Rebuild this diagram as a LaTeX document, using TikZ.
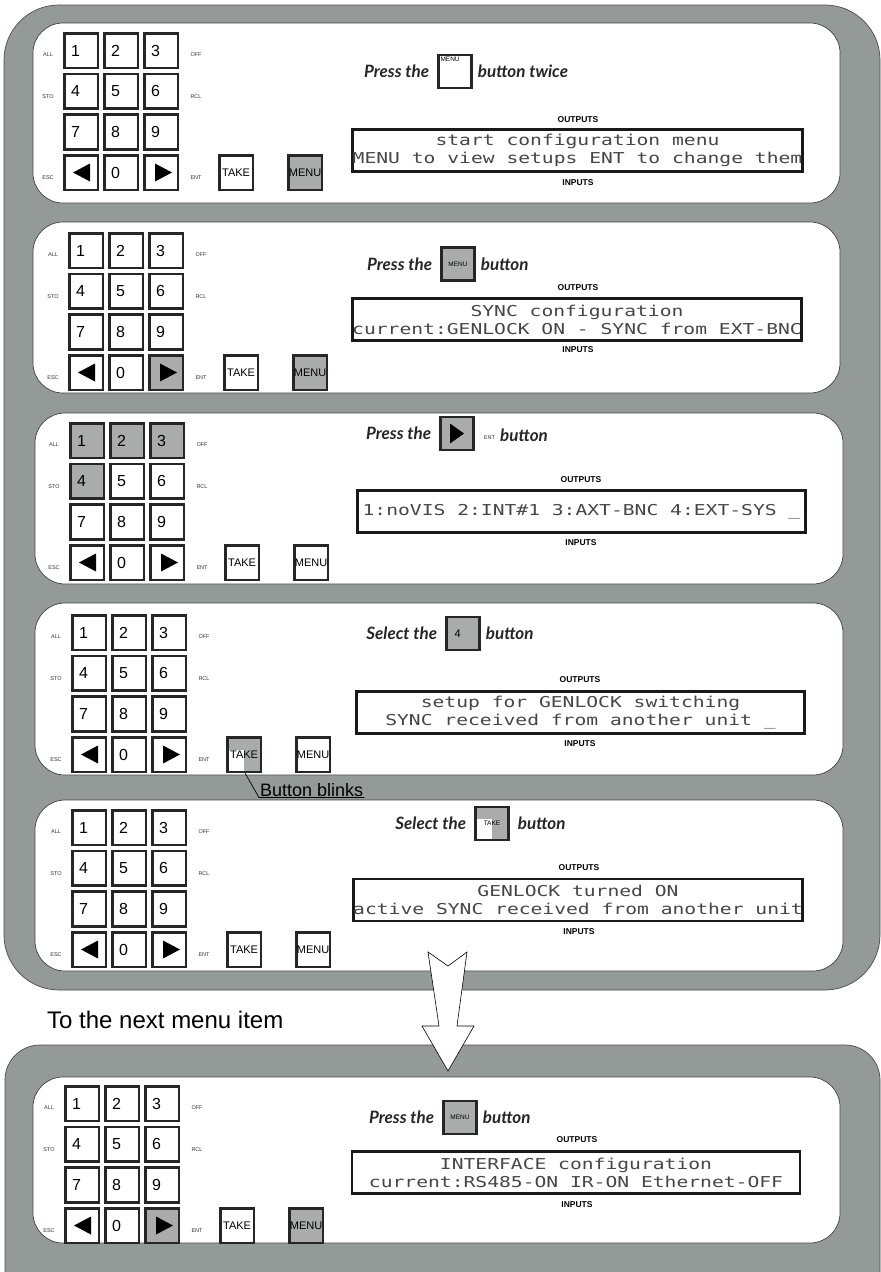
\documentclass[tikz,border=0pt]{standalone}
\usepackage{fontspec}
\setmainfont{Liberation Sans}
\newfontfamily\lcdfont[FakeStretch=1.31]{DejaVu Sans Mono}
\newfontfamily\handfont{Lato}
\usetikzlibrary{positioning,calc}

\definecolor{framegrey}{RGB}{148,154,152}
\definecolor{keygrey}{RGB}{170,172,171}
\definecolor{lcdink}{RGB}{70,70,70}

\tikzset{
  outer/.style={fill=framegrey, draw=black!70, line width=0.7pt, rounded corners=55pt},
  panel/.style={fill=white, draw=black!75, line width=0.7pt, rounded corners=30pt},
  key/.style={draw=black!85, line width=2.6pt, fill=white, anchor=north west,
    minimum width=33.5pt, minimum height=34.5pt, inner sep=0pt},
  digit/.style={key, text width=20pt, align=left, font=\fontsize{16}{16}\selectfont},
  wordkey/.style={key, font=\fontsize{11}{11}\selectfont},
  side/.style={inner sep=0pt, text=black!80, font=\fontsize{5.5}{6}\selectfont},
  hot/.style={fill=keygrey},
  blink/.style={path picture={
    \fill[keygrey] (path picture bounding box.north west) rectangle ([yshift=5pt]path picture bounding box.center);
    \fill[keygrey] (path picture bounding box.north) rectangle (path picture bounding box.south east);}},
  kp1/.style={}, kp2/.style={}, kp3/.style={}, kp4/.style={}, kp5/.style={},
  kp6/.style={}, kp7/.style={}, kp8/.style={}, kp9/.style={}, kp0/.style={},
  kpl/.style={}, kpr/.style={}, kptake/.style={}, kpmenu/.style={},
  inbox/.style={draw=black!85, line width=2.4pt, fill=white, minimum width=33pt,
    minimum height=33pt, inner sep=1.5pt, font=\fontsize{6.5}{7}\selectfont},
  hand/.style={inner sep=0pt, text=black!85, font=\handfont\bfseries\itshape\fontsize{17}{17}\selectfont},
  lcd/.style={draw=black!90, line width=2.8pt, fill=white, minimum width=448pt,
    minimum height=42pt, align=center, inner sep=0pt, text=lcdink,
    font=\lcdfont\fontsize{15}{18}\selectfont},
  io/.style={inner sep=0pt, font=\bfseries\fontsize{8.5}{9}\selectfont}
}

% keypad: name, top left corner, key options
\newcommand{\keypad}[3]{%
  \begin{scope}[shift={#2},#3]
    \node[digit,kp1] (#1k1) at (0,0) {1};
    \node[digit,kp2] (#1k2) at (40,0) {2};
    \node[digit,kp3] (#1k3) at (80,0) {3};
    \node[digit,kp4] (#1k4) at (0,40.7) {4};
    \node[digit,kp5] (#1k5) at (40,40.7) {5};
    \node[digit,kp6] (#1k6) at (80,40.7) {6};
    \node[digit,kp7] (#1k7) at (0,81.4) {7};
    \node[digit,kp8] (#1k8) at (40,81.4) {8};
    \node[digit,kp9] (#1k9) at (80,81.4) {9};
    \node[digit,kpl] (#1kl) at (0,122.1) {};
    \node[digit,kp0] (#1k0) at (40,122.1) {0};
    \node[digit,kpr] (#1kr) at (80,122.1) {};
    \node[wordkey,kptake] (#1take) at (155,122.1) {TAKE};
    \node[wordkey,kpmenu] (#1menu) at (224,122.1) {MENU};
    \fill (10,140.5) -- (27,131.5) -- (27,149.5) -- cycle;
    \fill (92,131.5) -- (109,140.5) -- (92,149.5) -- cycle;
    \node[side] (#1all) at (-15,23) {ALL};
    \node[side] (#1sto) at (-15,65) {STO};
    \node[side] (#1esc) at (-15,146) {ESC};
    \node[side] (#1off) at (133,23) {OFF};
    \node[side] (#1rcl) at (133,65) {RCL};
    \node[side] (#1ent) at (133,146) {ENT};
  \end{scope}}

\begin{document}
\begin{tikzpicture}[x=1pt,y=-1pt]
  \useasboundingbox (0,0) rectangle (881,1272);

  % grey frames
  \filldraw[outer] (4,5) rectangle (880,990);
  \filldraw[outer, rounded corners=35pt] (5,1045) rectangle (880,1310);

  % white panels
  \filldraw[panel] (33,23) rectangle (840,203);
  \filldraw[panel] (33,222) rectangle (840,393);
  \filldraw[panel] (35,413) rectangle (843,584);
  \filldraw[panel] (35,603) rectangle (843,775);
  \filldraw[panel] (35,800) rectangle (843,971);
  \filldraw[panel] (33,1077) rectangle (840,1243);

  % keypads
  \keypad{p1}{(63,32)}{kpmenu/.style=hot}
  \keypad{p2}{(68,232)}{kpr/.style=hot, kpmenu/.style=hot}
  \keypad{p3}{(69,422)}{kp1/.style=hot, kp2/.style=hot, kp3/.style=hot, kp4/.style=hot}
  \keypad{p4}{(71,614)}{kptake/.style=blink}
  \keypad{p5}{(71,809)}{}
  \keypad{p6}{(64,1085)}{kpr/.style=hot, kpmenu/.style=hot}

  % step 1
  \node[inbox, label={[inner sep=3pt, anchor=north west, font=\fontsize{6.5}{7}\selectfont]north west:MENU}] (p1btn) at (455,71.5) {};
  \node[hand, left=8pt of p1btn] (p1press) {Press the};
  \node[hand, right=5pt of p1btn] (p1word) {button twice};
  \node[io] (p1out) at (578,120) {OUTPUTS};
  \node[lcd] (p1lcd) at (577.5,150.5) {start configuration menu\\MENU to view setups ENT to change them};
  \node[io] (p1in) at (578,183) {INPUTS};

  % step 2
  \node[inbox, hot] (p2btn) at (458,264) {MENU};
  \node[hand, left=8pt of p2btn] (p2press) {Press the};
  \node[hand, right=5pt of p2btn] (p2word) {button};
  \node[io] (p2out) at (578,288) {OUTPUTS};
  \node[lcd] (p2lcd) at (577,319.5) {SYNC configuration\\current:GENLOCK ON - SYNC from EXT-BNC};
  \node[io] (p2in) at (578,350) {INPUTS};

  % step 3
  \node[inbox, hot] (p3btn) at (457,433.5) {};
  \fill ($(p3btn.center)+(-7,-10)$) -- ++(0,20) -- ++(14,-10) -- cycle;
  \node[hand, left=8pt of p3btn] (p3press) {Press the};
  \node[side, right=9pt of p3btn, yshift=-4pt] (p3ent) {ENT};
  \node[hand, anchor=west] (p3word) at (500,435) {button};
  \node[io] (p3out) at (581,480) {OUTPUTS};
  \node[lcd] (p3lcd) at (581.5,511.5) {1:noVIS 2:INT\#1 3:AXT-BNC 4:EXT-SYS \_};
  \node[io] (p3in) at (581,543) {INPUTS};

  % step 4
  \node[inbox, hot, text width=17pt, align=left, font=\fontsize{11}{11}\selectfont] (p4btn) at (463,633.5) {4};
  \node[hand, left=8pt of p4btn] (p4press) {Select the};
  \node[hand, right=5pt of p4btn] (p4word) {button};
  \node[io] (p4out) at (580,680) {OUTPUTS};
  \node[lcd] (p4lcd) at (580.5,712.5) {setup for GENLOCK switching\\SYNC received from another unit \_};
  \node[io] (p4in) at (580,744) {INPUTS};

  \node[anchor=south west, inner sep=1pt, font=\fontsize{18}{18}\selectfont] (blinks) at (259,797.5) {Button blinks};
  \draw[line width=0.7pt] ([xshift=1pt]p4take.south) -- (blinks.south west) -- (blinks.south east);

  % step 5
  \node[inbox, blink] (p5btn) at (492,823.5) {TAKE};
  \node[hand, left=8pt of p5btn] (p5press) {Select the};
  \node[hand, right=8pt of p5btn] (p5word) {button};
  \node[io] (p5out) at (579,868) {OUTPUTS};
  \node[lcd] (p5lcd) at (578,900) {GENLOCK turned ON\\active SYNC received from another unit};
  \node[io] (p5in) at (579,932) {INPUTS};

  % next menu item
  \filldraw[fill=white, draw=black, line width=0.6pt] (428,952) -- (448,966) -- (467,952) -- (457,1026)
    -- (474,1026) -- (448,1071) -- (422,1026) -- (439,1026) -- cycle;
  \node[anchor=west, inner sep=0pt, font=\fontsize{24}{24}\selectfont] (nextitem) at (47,1020) {To the next menu item};

  % step 6
  \node[inbox, hot] (p6btn) at (460,1117.5) {MENU};
  \node[hand, left=8pt of p6btn] (p6press) {Press the};
  \node[hand, right=5pt of p6btn] (p6word) {button};
  \node[io] (p6out) at (577,1140) {OUTPUTS};
  \node[lcd] (p6lcd) at (576,1172.5) {INTERFACE configuration\\current:RS485-ON IR-ON Ethernet-OFF};
  \node[io] (p6in) at (577,1205) {INPUTS};
\end{tikzpicture}
\end{document}
